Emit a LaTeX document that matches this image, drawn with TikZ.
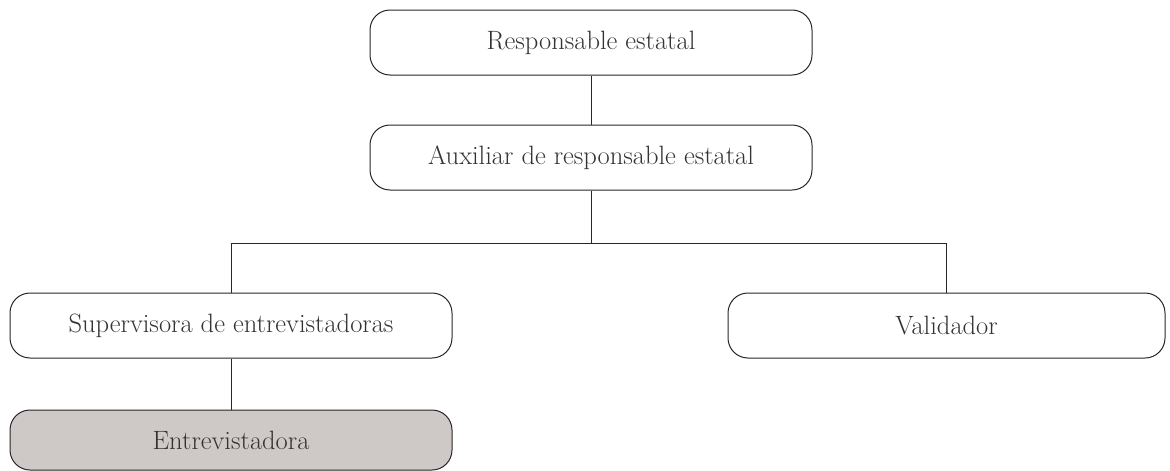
\documentclass[tikz,border=0pt]{standalone}
\usepackage{fontspec}
\begin{document}
\begin{tikzpicture}[x=1pt,y=1pt,
  box/.style={draw=black!85, line width=1pt, rounded corners=20pt, minimum width=442pt, minimum height=65pt, inner sep=0pt, font=\fontsize{26.5}{30}\selectfont, text=black!80},
  conn/.style={draw=black!85, line width=1pt}]
\useasboundingbox (0,0) rectangle (1170,-471);
\node[box] (a) at (591,-42.5) {Responsable estatal};
\node[box] (b) at (591,-157.5) {Auxiliar de responsable estatal};
\node[box] (c) at (231,-325.5) {Supervisora de entrevistadoras};
\node[box, minimum width=437pt] (d) at (946.5,-325.5) {Validador};
\node[box, minimum height=60pt, fill={rgb,255:red,206;green,201;blue,199}] (e) at (231,-440) {Entrevistadora};
\coordinate (j) at (591,-243);
\draw[conn] (a.south) -- (b.north);
\draw[conn] (b.south) -- (j);
\draw[conn] (j) -| (c.north);
\draw[conn] (j) -| (d.north);
\draw[conn] (c.south) -- (e.north);
\end{tikzpicture}
\end{document}
